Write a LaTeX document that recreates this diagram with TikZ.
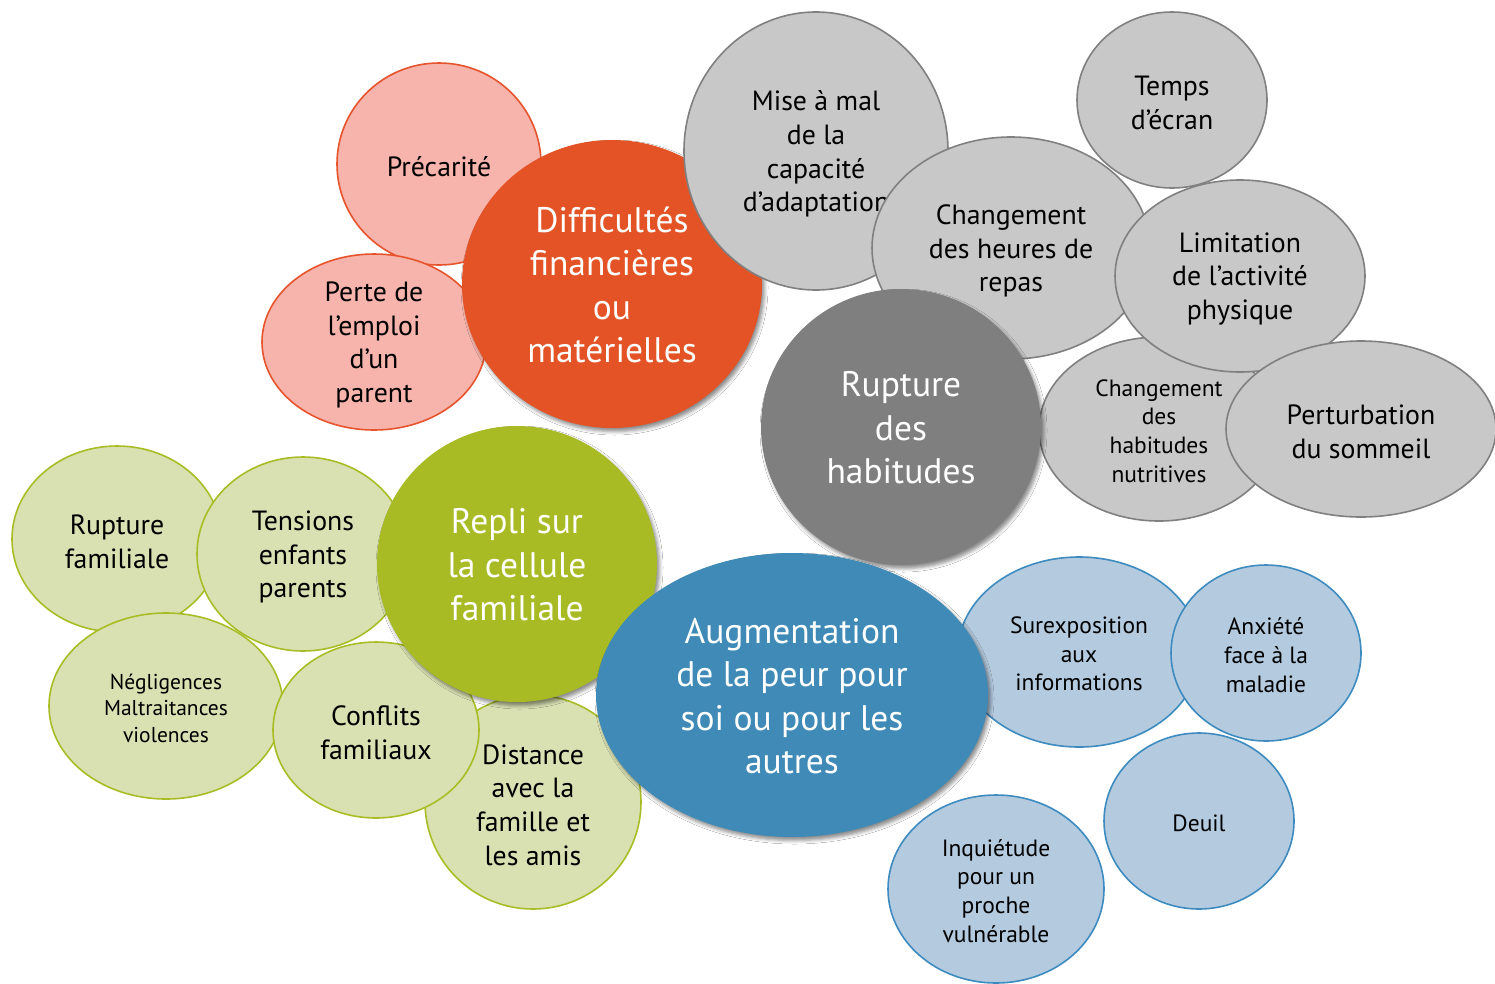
\documentclass[tikz,border=0pt]{standalone}
\usepackage{fontspec}
\setmainfont{PT Sans}
\usetikzlibrary{shapes.geometric,shadows.blur}
\definecolor{pinkfill}{HTML}{F7B4AC}
\definecolor{pinkline}{HTML}{E5542C}
\definecolor{orangemain}{HTML}{E35325}
\definecolor{grayfill}{HTML}{C8C8C8}
\definecolor{grayline}{HTML}{808080}
\definecolor{graymain}{HTML}{7F7F80}
\definecolor{greenfill}{HTML}{D9E1B3}
\definecolor{greenline}{HTML}{A8BD25}
\definecolor{greenmain}{HTML}{A9BB24}
\definecolor{bluefill}{HTML}{B4CADF}
\definecolor{blueline}{HTML}{3D8BBF}
\definecolor{bluemain}{HTML}{3F8AB6}
\tikzset{
  bub/.style={ellipse, inner sep=0pt, outer sep=0pt, line width=1.6pt},
  pinkb/.style={bub, fill=pinkfill, draw=pinkline},
  grayb/.style={bub, fill=grayfill, draw=grayline},
  greenb/.style={bub, fill=greenfill, draw=greenline},
  blueb/.style={bub, fill=bluefill, draw=blueline},
  mainb/.style={ellipse, inner sep=0pt, outer sep=0pt,
    blur shadow={shadow xshift=2.5pt, shadow yshift=-3.5pt, shadow blur radius=3.5pt, shadow opacity=45}},
  txt/.style={align=center, inner sep=0pt, yshift=-3pt, font=\fontsize{27.8}{33.6}\selectfont},
  txts/.style={align=center, inner sep=0pt, yshift=-2pt, font=\fontsize{23.5}{28.7}\selectfont},
  txtn/.style={align=center, inner sep=0pt, yshift=-2pt, font=\fontsize{21.5}{26.5}\selectfont},
  txtm/.style={align=center, inner sep=0pt, yshift=-1pt, text=white, font=\fontsize{35.5}{43.5}\selectfont},
}
\begin{document}
\begin{tikzpicture}[x=1pt, y=-1pt]
\useasboundingbox (0,0) rectangle (1495,983);
\fill[white] (0,0) rectangle (1495,983);
% pink group
\node[pinkb, minimum width=204pt, minimum height=202pt] (prec) at (439,164) {};
\node[pinkb, minimum width=224pt, minimum height=176pt] (perte) at (374,342) {};
\node[txt] at (prec) {Précarité};
\node[txt] at (perte) {Perte de\\l’emploi\\d’un\\parent};
\node[mainb, fill=orangemain, minimum width=300pt, minimum height=288pt] (diff) at (612,284) {};
\node[txtm] at (diff) {Difficultés\\financières\\ou\\matérielles};
% gray group
\node[grayb, minimum width=264pt, minimum height=278pt] (mise) at (816,151) {};
\node[txt] at (mise) {Mise à mal\\de la\\capacité\\d’adaptation};
\node[grayb, minimum width=190pt, minimum height=176pt] (temps) at (1172,100) {};
\node[txt] at (temps) {Temps\\d’écran};
\node[grayb, minimum width=278pt, minimum height=222pt] (heures) at (1011,248) {};
\node[txt] at (heures) {Changement\\des heures de\\repas};
\node[grayb, minimum width=240pt, minimum height=184pt] (nutri) at (1159,429) {};
\node[txts] at (nutri) {Changement\\des\\habitudes\\nutritives};
\node[grayb, minimum width=250pt, minimum height=192pt] (limit) at (1240,276) {};
\node[txt] at (limit) {Limitation\\de l’activité\\physique};
\node[grayb, minimum width=270pt, minimum height=176pt] (sommeil) at (1361,429) {};
\node[txt] at (sommeil) {Perturbation\\du sommeil};
\node[mainb, fill=graymain, minimum width=280pt, minimum height=276pt] (habit) at (901,427) {};
\node[txtm] at (habit) {Rupture\\des\\habitudes};
% green group
\node[greenb, minimum width=210pt, minimum height=186pt] (rupfam) at (117,539) {};
\node[txt] at (rupfam) {Rupture\\familiale};
\node[greenb, minimum width=234pt, minimum height=186pt] (negl) at (166,706) {};
\node[txtn] at (negl) {Négligences\\Maltraitances\\violences};
\node[greenb, minimum width=212pt, minimum height=194pt] (tens) at (303,554) {};
\node[txt] at (tens) {Tensions\\enfants\\parents};
\node[greenb, minimum width=216pt, minimum height=214pt] (dist) at (533,802) {};
\node[txt] at (dist) {Distance\\avec la\\famille et\\les amis};
\node[greenb, minimum width=206pt, minimum height=176pt] (confl) at (376,730) {};
\node[txt] at (confl) {Conflits\\familiaux};
\node[mainb, fill=greenmain, minimum width=280pt, minimum height=276pt] (repli) at (517,564) {};
\node[txtm] at (repli) {Repli sur\\la cellule\\familiale};
% blue group
\node[blueb, minimum width=242pt, minimum height=190pt] (surex) at (1079,652) {};
\node[txts] at (surex) {Surexposition\\aux\\informations};
\node[blueb, minimum width=190pt, minimum height=176pt] (anx) at (1266,653) {};
\node[txts] at (anx) {Anxiété\\face à la\\maladie};
\node[blueb, minimum width=190pt, minimum height=176pt] (deuil) at (1199,821) {};
\node[txts] at (deuil) {Deuil};
\node[blueb, minimum width=216pt, minimum height=188pt] (inq) at (996,889) {};
\node[txts] at (inq) {Inquiétude\\pour un\\proche\\vulnérable};
\node[mainb, fill=bluemain, minimum width=392pt, minimum height=284pt] (peur) at (792,695) {};
\node[txtm] at (peur) {Augmentation\\de la peur pour\\soi ou pour les\\autres};
\end{tikzpicture}
\end{document}
